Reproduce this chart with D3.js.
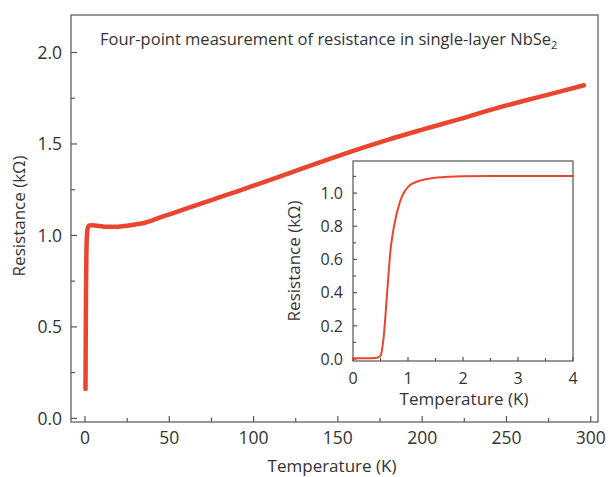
<!DOCTYPE html>
<html>
<head>
  <meta charset="utf8">
  <script src="https://d3js.org/d3.v7.min.js"></script>
  <style>
    body { margin: 0; background: #fff; }
    text { font-family: "Open Sans", sans-serif; fill: #333; }
  </style>
</head>
<body>
  <svg id="chart" width="610" height="477"></svg>
  <script>
    // main curve: temperature (K) vs resistance (kOhm)
    var mainT = [0.3, 0.4, 0.5, 0.6, 0.8, 1.0, 1.3, 1.8, 2.5, 4, 6, 8, 10, 12, 15, 18, 20, 25, 30, 35, 40, 45,
      50, 60, 70, 80, 90, 100, 120, 140, 160, 180, 200, 220, 240, 260, 280, 296];
    var mainR = [0.16, 0.35, 0.55, 0.7, 0.88, 0.97, 1.02, 1.045, 1.055, 1.056, 1.054, 1.052, 1.05, 1.048, 1.047, 1.047, 1.048, 1.053, 1.06, 1.068, 1.082, 1.1,
      1.115, 1.147, 1.178, 1.209, 1.24, 1.272, 1.337, 1.402, 1.465, 1.524, 1.578, 1.63, 1.685, 1.735, 1.782, 1.821];
    // inset: low temperature transition
    var insetT = [0, 0.1, 0.2, 0.3, 0.4, 0.45, 0.5, 0.53, 0.56, 0.59, 0.62, 0.65, 0.68, 0.72, 0.77, 0.83, 0.89, 0.95, 1.01, 1.1, 1.22, 1.35, 1.53, 1.75, 2.0, 2.5, 3.0, 3.5, 4.0];
    var insetR = [0.005, 0.004, 0.004, 0.005, 0.006, 0.01, 0.02, 0.06, 0.14, 0.26, 0.4, 0.53, 0.65, 0.75, 0.84, 0.92, 0.98, 1.015, 1.04, 1.06, 1.075, 1.085, 1.093, 1.098, 1.101, 1.103, 1.103, 1.103, 1.103];

    var mainXTicks = [0, 50, 100, 150, 200, 250, 300];
    var mainXMinor = [25, 75, 125, 175, 225, 275];
    var mainYTicks = [0, 0.5, 1.0, 1.5, 2.0];
    var mainYMinor = [0.25, 0.75, 1.25, 1.75];
    var insetXTicks = [0, 1, 2, 3, 4];
    var insetXMinor = [0.5, 1.5, 2.5, 3.5];
    var insetYTicks = [0, 0.2, 0.4, 0.6, 0.8, 1.0];
    var insetYMinor = [0.1, 0.3, 0.5, 0.7, 0.9, 1.1];

    var axisColor = '#555';
    var lineColor = '#ea452f';
    var svg = d3.select('#chart');

    function panel(box, xDomain, yDomain, opt) {
      var x = d3.scaleLinear().domain(xDomain).range([box.left, box.right]);
      var y = d3.scaleLinear().domain(yDomain).range([box.bottom, box.top]);
      var g = svg.append('g');
      g.append('rect')
        .attr('x', box.left).attr('y', box.top)
        .attr('width', box.right - box.left).attr('height', box.bottom - box.top)
        .attr('fill', '#fff').attr('stroke', axisColor).attr('stroke-width', 1.2);

      function ticks(vals, len, isX) {
        g.selectAll(null).data(vals).enter().append('line')
          .attr('x1', (d) => isX ? x(d) : box.left)
          .attr('x2', (d) => isX ? x(d) : box.left + len)
          .attr('y1', (d) => isX ? box.bottom : y(d))
          .attr('y2', (d) => isX ? box.bottom - len : y(d))
          .attr('stroke', axisColor).attr('stroke-width', 1.2);
      }
      ticks(opt.xTicks, opt.major, true);
      ticks(opt.xMinor, opt.minor, true);
      ticks(opt.yTicks, opt.major, false);
      ticks(opt.yMinor, opt.minor, false);

      g.selectAll(null).data(opt.xTicks).enter().append('text')
        .attr('x', (d) => x(d)).attr('y', box.bottom + opt.xLabelDy)
        .attr('text-anchor', 'middle').style('font-size', opt.fs + 'px')
        .text((d) => d);
      g.selectAll(null).data(opt.yTicks).enter().append('text')
        .attr('x', box.left - opt.yLabelDx).attr('y', (d) => y(d) + opt.fs * 0.36)
        .attr('text-anchor', 'end').style('font-size', opt.fs + 'px')
        .text((d) => d3.format('.1f')(d));

      g.append('text')
        .attr('x', opt.xTitle[0]).attr('y', opt.xTitle[1])
        .attr('text-anchor', 'middle').style('font-size', opt.tfs + 'px')
        .text('Temperature (K)');
      g.append('text')
        .attr('transform', 'translate(' + opt.yTitle[0] + ',' + opt.yTitle[1] + ') rotate(-90)')
        .attr('text-anchor', 'middle').style('font-size', opt.tfs + 'px')
        .text('Resistance (k\u03a9)');

      g.append('path')
        .datum(opt.T.map((t, i) => [t, opt.R[i]]))
        .attr('fill', 'none').attr('stroke', lineColor)
        .attr('stroke-width', opt.lw).attr('stroke-linejoin', 'round').attr('stroke-linecap', 'round')
        .attr('d', d3.line().x((d) => x(d[0])).y((d) => y(d[1])).curve(d3.curveMonotoneX));
      return g;
    }

    panel({ left: 71, right: 598, top: 15, bottom: 422 }, [-8.3, 304.3], [-0.02, 2.205], {
      xTicks: mainXTicks, xMinor: mainXMinor, yTicks: mainYTicks, yMinor: mainYMinor,
      major: 6, minor: 4, fs: 17.5, tfs: 17, xLabelDy: 22, yLabelDx: 9,
      xTitle: [332, 472], yTitle: [25, 216], T: mainT, R: mainR, lw: 4.5
    });

    var title = svg.append('text').attr('x', 100).attr('y', 45).style('font-size', '16.5px')
      .text('Four-point measurement of resistance in single-layer NbSe');
    title.append('tspan').attr('dy', 4).style('font-size', '11px').text('2');

    panel({ left: 353, right: 573, top: 161, bottom: 361 }, [0, 4], [-0.012, 1.193], {
      xTicks: insetXTicks, xMinor: insetXMinor, yTicks: insetYTicks, yMinor: insetYMinor,
      major: 4, minor: 3, fs: 16, tfs: 17, xLabelDy: 23, yLabelDx: 10,
      xTitle: [464, 405], yTitle: [300, 261], T: insetT, R: insetR, lw: 2
    });
  </script>
</body>
</html>
